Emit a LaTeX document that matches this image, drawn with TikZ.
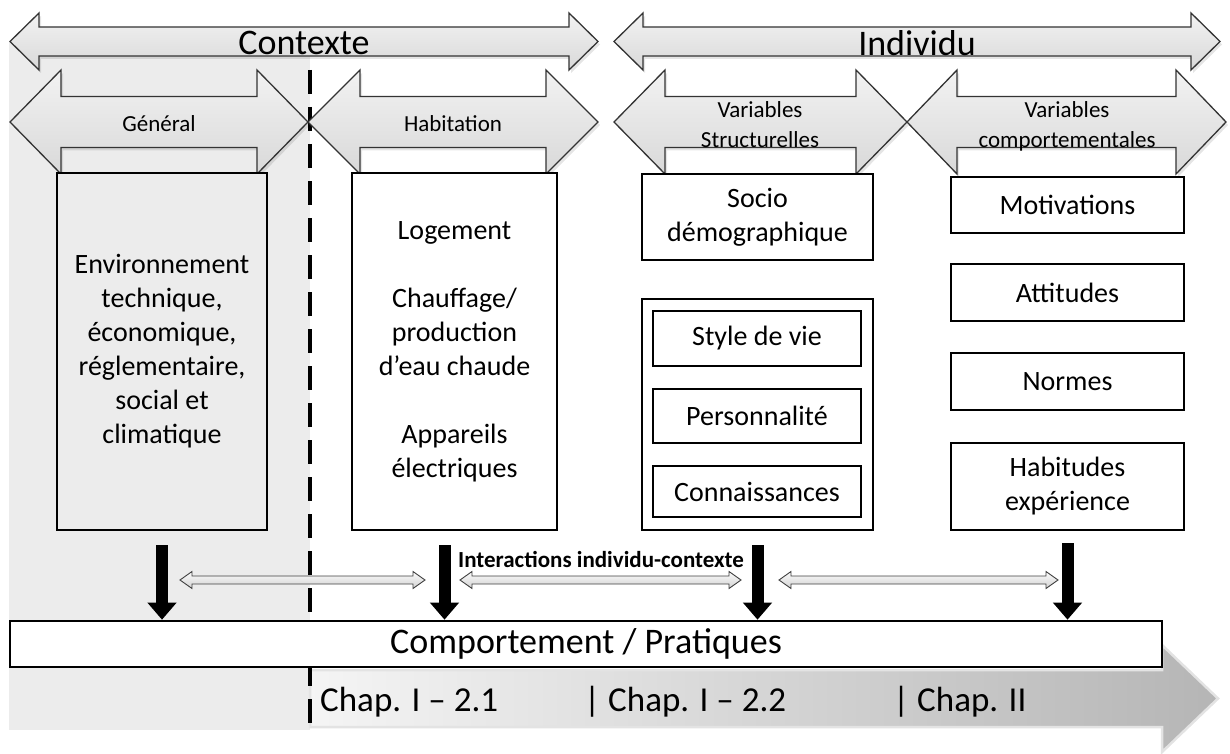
\documentclass[tikz,border=0pt]{standalone}
\usepackage{fontspec}
\setmainfont{Carlito}
\usetikzlibrary{arrows.meta}
\newcommand\bxfont{\fontsize{28}{34}\selectfont}
\newcommand\hdfont{\fontsize{36}{40}\selectfont}
\newcommand\lbfont{\fontsize{23}{30}\selectfont}
\newcommand\chfont{\fontsize{35}{40}\selectfont}
\newcommand\itfont{\fontsize{23}{26}\selectfont\bfseries}
% block double arrow: style, x1, x2, yc, shaft half, head half, head length
\newcommand\blockarrow[7]{%
  \path[#1] (#2,#4) -- ({#2+#7},{#4-#6}) -- ({#2+#7},{#4-#5}) -- ({#3-#7},{#4-#5})
    -- ({#3-#7},{#4-#6}) -- (#3,#4) -- ({#3-#7},{#4+#6}) -- ({#3-#7},{#4+#5})
    -- ({#2+#7},{#4+#5}) -- ({#2+#7},{#4+#6}) -- cycle;}
\begin{document}
\begin{tikzpicture}[x=1pt,y=-1pt,
  panel/.style={fill=gray!15},
  band/.style={draw=gray!22, line width=2.5pt, left color=gray!8, right color=gray!58},
  divider/.style={line width=4.5pt, dash pattern=on 24pt off 13pt, black},
  arrshadow/.style={fill=black, opacity=0.10, xshift=2pt, yshift=-3pt},
  bigarr/.style={draw=black!80, line width=1.3pt, top color=gray!10, bottom color=gray!30},
  intarr/.style={draw=black!75, line width=0.9pt, top color=gray!3, bottom color=gray!35},
  box/.style={draw=black, line width=2.6pt, fill=white, align=center, inner sep=0pt, font=\bxfont},
  graybox/.style={box, fill=gray!15},
  subbox/.style={draw=black, line width=1.3pt, fill=white, align=center, inner sep=0pt, font=\bxfont},
  barbox/.style={draw=black, line width=2.6pt, fill=white, inner sep=0pt, font=\hdfont},
  downarr/.style={line width=12pt, black, -{Triangle[length=17pt,width=28pt]}},
  hdlabel/.style={font=\hdfont, inner sep=0pt},
  arlabel/.style={font=\lbfont, align=center, inner sep=0pt},
  chlabel/.style={font=\chfont, inner sep=0pt, anchor=base west},
  itlabel/.style={font=\itfont, inner sep=0pt, anchor=base}
]
\useasboundingbox (0,0) rectangle (1230,754);

% background panel (Contexte side)
\path[panel] (9,42) rectangle (310,730);

% gray chapter arrow
\path[band] (310,670) -- (1162,670) -- (1162,645) -- (1218,698.5) -- (1162,752) -- (1162,727) -- (310,727) -- cycle;

% dashed divider
\coordinate (dtop) at (310,70);
\coordinate (dbot) at (310,730);
\draw[divider] (dtop) -- (dbot);

% top arrows
\blockarrow{arrshadow}{10}{598}{41.5}{14.5}{28.5}{29}
\blockarrow{arrshadow}{614}{1220}{41.5}{14.5}{28.5}{29}
\blockarrow{bigarr}{10}{598}{41.5}{14.5}{28.5}{29}
\blockarrow{bigarr}{614}{1220}{41.5}{14.5}{28.5}{29}
% second row arrows
\blockarrow{arrshadow}{10}{308}{122}{25.5}{52}{51}
\blockarrow{arrshadow}{308}{598}{122}{25.5}{52}{52}
\blockarrow{arrshadow}{614}{907}{122}{25.5}{52}{51}
\blockarrow{arrshadow}{907}{1226}{122}{25.5}{52}{50}
\blockarrow{bigarr}{10}{308}{122}{25.5}{52}{51}
\blockarrow{bigarr}{308}{598}{122}{25.5}{52}{52}
\blockarrow{bigarr}{614}{907}{122}{25.5}{52}{51}
\blockarrow{bigarr}{907}{1226}{122}{25.5}{52}{50}

\node[hdlabel] (tctx) at (304,43) {Contexte};
\node[hdlabel] (tind) at (917,43) {Individu};
\node[arlabel] (tgen) at (159,124) {Général};
\node[arlabel] (thab) at (453,124) {Habitation};
\node[arlabel] (tvs) at (760,125) {Variables\\Structurelles};
\node[arlabel] (tvc) at (1067,126) {Variables\\comportementales};

% boxes
\node[graybox, minimum width=210pt, minimum height=357pt] (gen) at (162,351.5)
  {Environnement\\technique,\\économique,\\réglementaire,\\social et\\climatique};
\node[box, minimum width=205pt, minimum height=357pt] (hab) at (454.5,351.5)
  {Logement\\[34pt]Chauffage/\\production\\d’eau chaude\\[34pt]Appareils\\électriques};
\node[box, minimum width=231pt, minimum height=86pt] (socio) at (757.5,217) {Socio\\démographique};
\node[box, minimum width=231pt, minimum height=231pt] (ind) at (757.5,414.5) {};
\node[subbox, minimum width=208pt, minimum height=55pt] (style) at (757,338.5) {Style de vie};
\node[subbox, minimum width=208pt, minimum height=54pt] (perso) at (757,416) {Personnalité};
\node[subbox, minimum width=208pt, minimum height=51pt] (conn) at (757,491.5) {Connaissances};
\node[box, minimum width=233pt, minimum height=56pt] (motiv) at (1067.5,205) {Motivations};
\node[box, minimum width=233pt, minimum height=57pt] (att) at (1067.5,292.5) {Attitudes};
\node[box, minimum width=233pt, minimum height=57pt] (norm) at (1067.5,381.5) {Normes};
\node[box, minimum width=233pt, minimum height=87pt] (habit) at (1067.5,486.5) {Habitudes\\expérience};

% behaviour bar
\node[barbox, minimum width=1152pt, minimum height=46pt] (bar) at (586,644) {Comportement / Pratiques};

% down arrows
\draw[downarr] ([yshift=-14pt]gen.south) -- (gen.south |- bar.north);
\draw[downarr] ([xshift=-10pt,yshift=-14pt]hab.south) -- ([xshift=-10pt]hab.south |- bar.north);
\draw[downarr] ([yshift=-14pt]ind.south) -- (ind.south |- bar.north);
\draw[downarr] ([yshift=-12pt]habit.south) -- (habit.south |- bar.north);

% interaction arrows
\blockarrow{intarr}{180}{425}{580}{4}{8.5}{12}
\blockarrow{intarr}{460}{741}{580}{4}{8.5}{12}
\blockarrow{intarr}{779}{1058}{580}{4}{8.5}{12}
\node[itlabel] (tint) at (601,567) {Interactions individu-contexte};

% chapter labels
\node[chlabel] (ch1) at (320,711) {Chap. I – 2.1};
\node[chlabel] (ch2) at (584,711) {| Chap. I – 2.2};
\node[chlabel] (ch3) at (893,711) {| Chap. II};
\end{tikzpicture}
\end{document}
